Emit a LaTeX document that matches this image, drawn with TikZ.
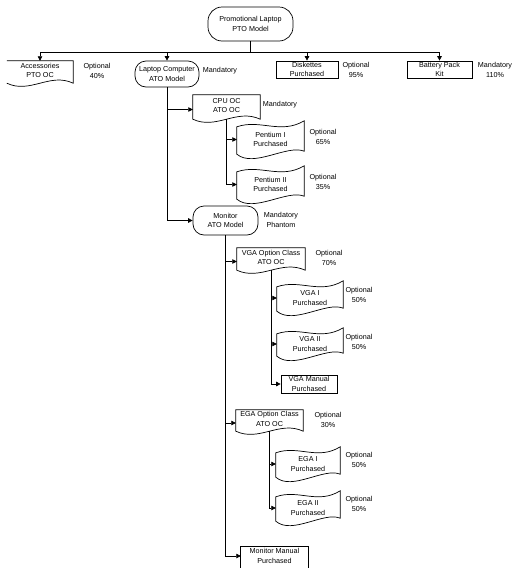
\documentclass[tikz,border=0pt]{standalone}
\usepackage{fontspec}
\setmainfont{Liberation Sans}
\usetikzlibrary{arrows.meta,calc}
\tikzset{
  every node/.style={font=\fontsize{7.2}{9.6}\selectfont, inner sep=0pt, align=center},
  line/.style={line width=0.7pt, draw=black},
  arr/.style={line width=0.7pt, draw=black, -{Triangle[length=4.5pt,width=4.5pt]}},
  rectbox/.style={draw, line width=0.7pt, rectangle},
  term/.style={draw, line width=0.7pt, rectangle, rounded corners=11pt},
  frame/.style={draw=none, rectangle},
}
\newcommand\docshape[1]{%
  \draw[line width=0.7pt] let \p1=(#1.north west), \p2=(#1.south east), \n1={\x2-\x1} in
    (\x1,\y2+5pt) -- (\x1,\y1) -- (\x2,\y1) -- (\x2,\y2+5pt)
    .. controls (\x1+0.65*\n1,\y2+16pt) and (\x1+0.35*\n1,\y2-6pt) .. cycle;}
\newcommand\docshapeopen[1]{%
  \draw[line width=0.7pt] let \p1=(#1.north west), \p2=(#1.south east), \n1={\x2-\x1} in
    (\x1,\y1) -- (\x2,\y1) -- (\x2,\y2+5pt)
    .. controls (\x1+0.65*\n1,\y2+16pt) and (\x1+0.35*\n1,\y2-6pt) .. (\x1,\y2+5pt);}
\newcommand\tapeshape[1]{%
  \draw[line width=0.7pt] let \p1=(#1.north west), \p2=(#1.south east), \n1={\x2-\x1} in
    (\x1,\y1-6pt) .. controls (\x1+0.35*\n1,\y1+2pt) and (\x1+0.65*\n1,\y1-14pt) .. (\x2,\y1)
    -- (\x2,\y2+7pt) .. controls (\x1+0.75*\n1,\y2+14pt) and (\x1+0.25*\n1,\y2-10pt) .. (\x1,\y2+4pt)
    -- cycle;}
\newcommand\up[1]{\raisebox{3.5pt}[\height][\depth]{\begin{tabular}{@{}c@{}}#1\end{tabular}}}
\begin{document}
\begin{tikzpicture}[x=1pt,y=-1pt]
\useasboundingbox (0,0) rectangle (521,568);
\fill[white] (0,0) rectangle (521,568);

% top level
\node[term, rounded corners=14pt, minimum width=85pt, minimum height=34pt] (root) at (250.5,24) {Promotional Laptop\\PTO Model};
\coordinate (bus) at (250.5,52);

% second row
\node[frame, minimum width=66pt, minimum height=27pt] (acc) at (40,74.5) {\up{Accessories\\PTO OC}};
\docshapeopen{acc}
\node (lacc) at (97,71) {Optional\\40\%};

\node[term, minimum width=64pt, minimum height=26pt] (lap) at (167,74) {Laptop Computer\\ATO Model};
\node (llap) at (220,71) {Mandatory};

\node[rectbox, minimum width=62pt, minimum height=17pt] (dis) at (307,69.5) {Diskettes\\Purchased};
\node (ldis) at (356,70) {Optional\\95\%};

\node[rectbox, minimum width=65pt, minimum height=17pt] (bat) at (439.5,69.5) {Battery Pack\\Kit};
\node (lbat) at (495,70) {Mandatory\\110\%};

% laptop children
\node[frame, minimum width=67pt, minimum height=29pt] (cpu) at (226.5,109.5) {\up{CPU OC\\ATO OC}};
\docshape{cpu}
\node (lcpu) at (280,105) {Mandatory};

\node[frame, minimum width=67pt, minimum height=37pt] (p1) at (270.5,139.5) {Pentium I\\Purchased};
\tapeshape{p1}
\node (lp1) at (323,137) {Optional\\65\%};

\node[frame, minimum width=67pt, minimum height=37pt] (p2) at (270.5,184.5) {Pentium II\\Purchased};
\tapeshape{p2}
\node (lp2) at (323,182) {Optional\\35\%};

\node[term, minimum width=65pt, minimum height=29pt] (mon) at (225.5,220.5) {Monitor\\ATO Model};
\node (lmon) at (281,220) {Mandatory\\Phantom};

% monitor children
\node[frame, minimum width=68pt, minimum height=27pt] (vga) at (271,261.5) {\up{VGA Option Class\\ATO OC}};
\docshape{vga}
\node (lvga) at (329,258) {Optional\\70\%};

\node[frame, minimum width=66pt, minimum height=34pt] (v1) at (310,298) {VGA I\\Purchased};
\tapeshape{v1}
\node (lv1) at (359,295) {Optional\\50\%};

\node[frame, minimum width=66pt, minimum height=32pt] (v2) at (310,344) {VGA II\\Purchased};
\tapeshape{v2}
\node (lv2) at (359,342) {Optional\\50\%};

\node[rectbox, minimum width=56pt, minimum height=18pt] (vman) at (309,384) {VGA Manual\\Purchased};

\node[frame, minimum width=67pt, minimum height=26pt] (ega) at (269.5,423) {\up{EGA Option Class\\ATO OC}};
\docshape{ega}
\node (lega) at (328,420) {Optional\\30\%};

\node[frame, minimum width=64pt, minimum height=34pt] (e1) at (308,464) {EGA I\\Purchased};
\tapeshape{e1}
\node (le1) at (359,460) {Optional\\50\%};

\node[frame, minimum width=64pt, minimum height=34pt] (e2) at (308,508) {EGA II\\Purchased};
\tapeshape{e2}
\node (le2) at (359,504) {Optional\\50\%};

\node[frame, minimum width=67pt, minimum height=18pt] (mman) at (274.5,556) {Monitor Manual\\Purchased};
\draw[line] ([yshift=-10pt]mman.south west) -- (mman.north west) -- (mman.north east) -- ([yshift=-10pt]mman.south east);

% connectors
\draw[line] (root.south) -- (bus);
\draw[arr] (bus) -| (acc.north);
\draw[arr] (bus) -| (lap.north);
\draw[arr] (bus) -| (dis.north);
\draw[arr] (bus) -| (bat.north);

\draw[arr] (lap.south) |- (cpu.west);
\draw[arr] (lap.south) |- (mon.west);

\draw[arr] ([yshift=5pt]cpu.south) |- (p1.west);
\draw[arr] ([yshift=5pt]cpu.south) |- (p2.west);

\draw[arr] (mon.south) |- (vga.west);
\draw[arr] (mon.south) |- (ega.west);
\draw[arr] (mon.south) |- (mman.west);

\draw[arr] ([yshift=5pt]vga.south) |- (v1.west);
\draw[arr] ([yshift=5pt]vga.south) |- (v2.west);
\draw[arr] ([yshift=5pt]vga.south) |- (vman.west);

\draw[arr] ([yshift=5pt]ega.south) |- (e1.west);
\draw[arr] ([yshift=5pt]ega.south) |- (e2.west);
\end{tikzpicture}
\end{document}
